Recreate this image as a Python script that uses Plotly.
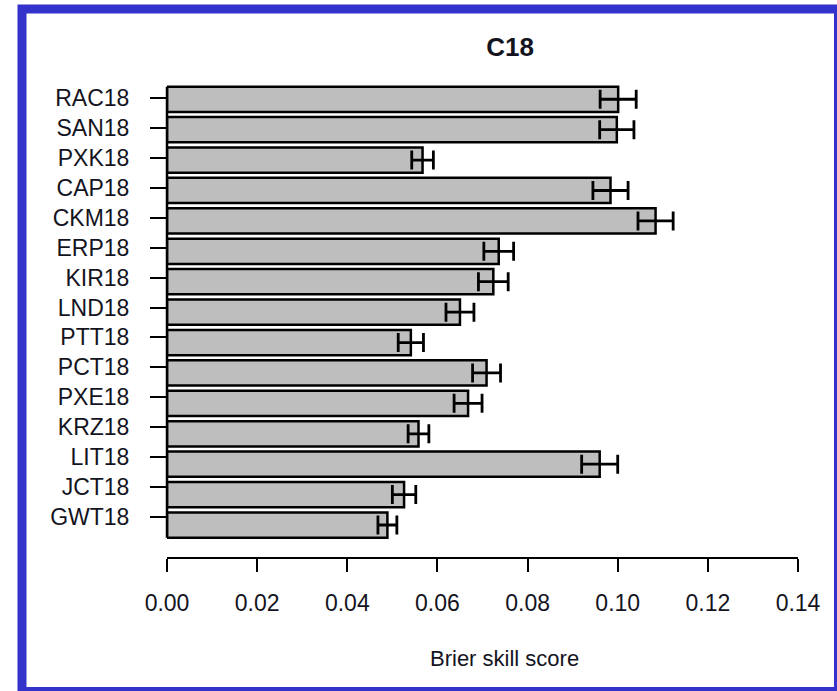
import plotly.graph_objects as go

# ---- data (top to bottom as shown) ----
categories = ["RAC18", "SAN18", "PXK18", "CAP18", "CKM18", "ERP18", "KIR18", "LND18",
              "PTT18", "PCT18", "PXE18", "KRZ18", "LIT18", "JCT18", "GWT18"]
scores = [0.1001, 0.0998, 0.0567, 0.0984, 0.1084, 0.0736, 0.0724, 0.0650,
          0.0541, 0.0709, 0.0668, 0.0558, 0.0960, 0.0526, 0.0489]
errors = [0.0040, 0.0038, 0.0024, 0.0039, 0.0039, 0.0033, 0.0033, 0.0031,
          0.0028, 0.0031, 0.0031, 0.0023, 0.0040, 0.0026, 0.0021]
x_ticks = [0.00, 0.02, 0.04, 0.06, 0.08, 0.10, 0.12, 0.14]
x_tick_labels = ["0.00", "0.02", "0.04", "0.06", "0.08", "0.10", "0.12", "0.14"]
title_text = "C18"
x_title = "Brier skill score"

n = len(categories)
bar_pos = [n - 1 - i for i in range(n)]
# name labels are spaced slightly tighter than the bars in the original
label_pos = [0.27 + 0.983 * (n - 1 - i) for i in range(n)]
bar_width = 0.83

FONT = "Liberation Sans, Arial, Helvetica, sans-serif"
TXT = "#14141e"

fig = go.Figure()
fig.add_trace(go.Bar(
    x=scores, y=bar_pos, orientation="h", width=bar_width,
    marker=dict(color="#bebebe", line=dict(color="black", width=2.5)),
    error_x=dict(type="data", array=errors, visible=True, color="black",
                 thickness=2.8, width=9.5),
    showlegend=False, hoverinfo="x+y",
))

W, H = 837, 691
L, R, T, B = 167, 39, 69, 134
pw, ph = W - L - R, H - T - B

def px_x(p):
    return (p - L) / pw

def px_y(p):
    return (H - B - p) / ph

shapes = [
    # vertical baseline at zero across the bars
    dict(type="line", xref="paper", yref="y", x0=0, x1=0,
         y0=min(bar_pos) - bar_width / 2, y1=max(bar_pos) + bar_width / 2,
         line=dict(color="black", width=2.5)),
    # blue frame
    dict(type="rect", xref="paper", yref="paper",
         x0=px_x(22), x1=px_x(838.5), y0=px_y(691.5), y1=px_y(9),
         line=dict(color="#3333cc", width=9), fillcolor="rgba(0,0,0,0)"),
]

fig.update_layout(
    width=W, height=H,
    margin=dict(l=L, r=R, t=T, b=B, pad=0),
    paper_bgcolor="white", plot_bgcolor="white",
    font=dict(family=FONT, color=TXT),
    title=dict(text="<b>" + title_text + "</b>", xref="container", yref="container",
               x=510 / W, y=1 - 47 / H, xanchor="center", yanchor="middle",
               font=dict(family=FONT, size=26, color=TXT)),
    xaxis=dict(range=[0, 0.14], tickvals=x_ticks, ticktext=x_tick_labels,
               showline=True, linecolor="black", linewidth=2.2,
               ticks="outside", ticklen=13, tickwidth=2.2, tickcolor="black",
               showgrid=False, zeroline=False, ticklabelstandoff=11,
               tickfont=dict(family=FONT, size=23, color=TXT)),
    yaxis=dict(range=[-1.052, 14.995], tickvals=label_pos, ticktext=categories,
               showline=False, ticks="outside", ticklen=16, tickwidth=2.2,
               tickcolor="black", showgrid=False, zeroline=False,
               ticklabelstandoff=16,
               tickfont=dict(family=FONT, size=23, color=TXT)),
    shapes=shapes,
    annotations=[dict(text=x_title, xref="paper", yref="paper",
                      x=px_x(504), y=px_y(658), xanchor="center", yanchor="middle",
                      showarrow=False, font=dict(family=FONT, size=22, color=TXT))],
)

fig.write_html("out.html")
